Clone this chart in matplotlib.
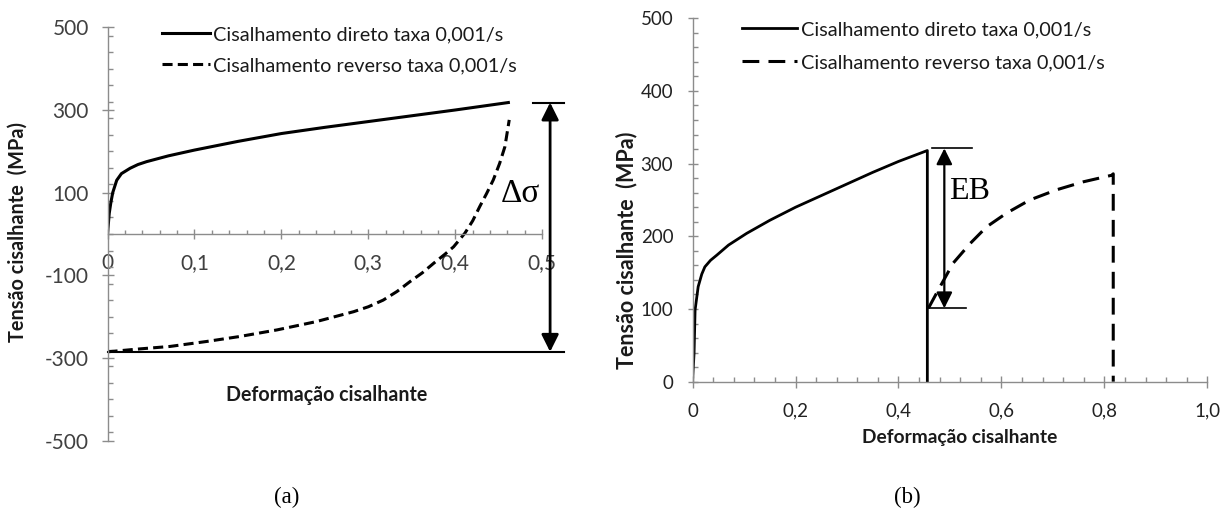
import matplotlib.pyplot as plt
from matplotlib.ticker import MultipleLocator, FixedLocator, FixedFormatter

# ---- (a) dados ----
a_direto_x = [0, 0.001, 0.002, 0.0037, 0.006, 0.0106, 0.016, 0.026, 0.035, 0.045, 0.07,
              0.1, 0.15, 0.2, 0.25, 0.3, 0.35, 0.4, 0.461]
a_direto_y = [0, 25, 50, 74, 100, 130, 146, 159, 168, 175, 189,
              203, 224, 243, 258, 272, 286, 300, 318]
a_reverso_x = [0, 0.037, 0.072, 0.114, 0.152, 0.195, 0.24, 0.283, 0.3, 0.317, 0.333, 0.348,
               0.362, 0.375, 0.388, 0.398, 0.411, 0.42, 0.428, 0.436, 0.4437, 0.451, 0.457, 0.462]
a_reverso_y = [-285, -278, -272, -260, -248, -232, -212, -188, -176, -160, -139, -115,
               -94, -71, -49, -31, 2, 32, 66, 98, 131, 171, 211, 276]
a_xticks = [0, 0.1, 0.2, 0.3, 0.4, 0.5]
a_xticklabels = ['0', '0,1', '0,2', '0,3', '0,4', '0,5']
a_yticks = [-500, -300, -100, 100, 300, 500]
a_yticklabels = ['-500', '-300', '-100', '100', '300', '500']

# ---- (b) dados ----
b_direto_x = [0, 0.0015, 0.003, 0.005, 0.011, 0.018, 0.024, 0.035, 0.047, 0.07, 0.105,
              0.15, 0.2, 0.25, 0.3, 0.35, 0.4, 0.456, 0.456]
b_direto_y = [0, 20, 39, 98.6, 130.7, 148, 158, 167, 174, 188, 204,
              222, 240, 256, 272, 288, 303, 318, 0]
b_reverso_x = [0.458, 0.481, 0.506, 0.539, 0.571, 0.61, 0.655, 0.707, 0.759, 0.814,
               0.817, 0.817]
b_reverso_y = [101, 131, 163, 190, 213, 232, 250, 264, 275, 284,
               286, 0]
b_xticks = [0, 0.2, 0.4, 0.6, 0.8, 1.0]
b_xticklabels = ['0', '0,2', '0,4', '0,6', '0,8', '1,0']
b_yticks = [0, 100, 200, 300, 400, 500]
b_yticklabels = ['0', '100', '200', '300', '400', '500']

leg_direto = 'Cisalhamento direto taxa 0,001/s'
leg_reverso = 'Cisalhamento reverso taxa 0,001/s'

plt.rcParams['font.family'] = ['Lato', 'DejaVu Sans']
spine_cor = '#8c8c8c'

fig = plt.figure(figsize=(12.32, 5.15), dpi=100)

# ================= (a) =================
ax1 = fig.add_axes([0.08726, 0.1443, 0.3529, 0.8027])
l1, = ax1.plot(a_direto_x, a_direto_y, color='black', lw=2.2)
l2, = ax1.plot(a_reverso_x, a_reverso_y, color='black', lw=2.2, dashes=(3.3, 1.7))
ax1.set_xlim(0, 0.5)
ax1.set_ylim(-500, 500)

ax1.spines['top'].set_visible(False)
ax1.spines['right'].set_visible(False)
ax1.spines['bottom'].set_position(('data', 0))
for s in ['left', 'bottom']:
    ax1.spines[s].set_color(spine_cor)
    ax1.spines[s].set_linewidth(1.0)

ax1.xaxis.set_major_locator(FixedLocator(a_xticks))
ax1.xaxis.set_major_formatter(FixedFormatter(a_xticklabels))
ax1.xaxis.set_minor_locator(MultipleLocator(0.02))
ax1.yaxis.set_major_locator(FixedLocator(a_yticks))
ax1.yaxis.set_major_formatter(FixedFormatter(a_yticklabels))
ax1.yaxis.set_minor_locator(MultipleLocator(40))
ax1.tick_params(axis='x', which='major', direction='inout', length=7.5, width=1,
                color=spine_cor, pad=10, labelsize=15, labelcolor='#404040')
ax1.tick_params(axis='x', which='minor', direction='in', length=3, width=1, color=spine_cor)
ax1.tick_params(axis='y', which='major', direction='inout', length=9, width=1,
                color=spine_cor, pad=9, labelsize=15, labelcolor='#404040')
ax1.tick_params(axis='y', which='minor', direction='in', length=3.6, width=1, color=spine_cor)

# linhas de referencia e seta delta sigma
topo_a = max(a_direto_y)
base_a = a_reverso_y[0]
ax1.plot([0.489, 0.525], [topo_a, topo_a], color='black', lw=1.5, clip_on=False)
ax1.plot([0, 0.525], [base_a, base_a], color='black', lw=1.5, clip_on=False)
ax1.annotate('', xy=(0.509, topo_a), xytext=(0.509, base_a),
             arrowprops=dict(arrowstyle='<|-|>', lw=2, color='black',
                             mutation_scale=26, shrinkA=0, shrinkB=0),
             annotation_clip=False)
ax1.text(0.475, 97, 'Δσ', fontsize=24, family='Liberation Serif', ha='center', va='center')

ax1.legend([l1, l2], [leg_direto, leg_reverso], loc='upper left',
           bbox_to_anchor=(162 / 1232, 1 - 26 / 515), bbox_transform=fig.transFigure,
           frameon=False, fontsize=14.3, borderpad=0, borderaxespad=0,
           handlelength=2.42, handletextpad=0.15, labelspacing=0.72, labelcolor='#1a1a1a')

fig.text(327 / 1232, 1 - 395 / 515, 'Deformação cisalhante', fontsize=14.1,
         fontweight='bold', ha='center', va='center', color='#1a1a1a')
fig.text(18 / 1232, 1 - 232 / 515, 'Tensão cisalhante  (MPa)', fontsize=14.3,
         fontweight='bold', ha='center', va='center', rotation=90, color='#1a1a1a')

# ================= (b) =================
ax2 = fig.add_axes([0.5621, 0.2588, 0.418, 0.7058])
l3, = ax2.plot(b_direto_x, b_direto_y, color='black', lw=2)
l4, = ax2.plot(b_reverso_x, b_reverso_y, color='black', lw=2.2, dashes=(5.5, 3))
ax2.set_xlim(0, 1.0)
ax2.set_ylim(0, 500)

ax2.spines['top'].set_visible(False)
ax2.spines['right'].set_visible(False)
for s in ['left', 'bottom']:
    ax2.spines[s].set_color(spine_cor)
    ax2.spines[s].set_linewidth(1.0)

ax2.xaxis.set_major_locator(FixedLocator(b_xticks))
ax2.xaxis.set_major_formatter(FixedFormatter(b_xticklabels))
ax2.xaxis.set_minor_locator(MultipleLocator(0.04))
ax2.yaxis.set_major_locator(FixedLocator(b_yticks))
ax2.yaxis.set_major_formatter(FixedFormatter(b_yticklabels))
ax2.yaxis.set_minor_locator(MultipleLocator(20))
ax2.tick_params(axis='x', which='major', direction='inout', length=8.4, width=1,
                color=spine_cor, pad=11, labelsize=13.5, labelcolor='#222222')
ax2.tick_params(axis='x', which='minor', direction='in', length=3.6, width=1, color=spine_cor)
ax2.tick_params(axis='y', which='major', direction='inout', length=7.7, width=1,
                color=spine_cor, pad=10, labelsize=13.5, labelcolor='#222222')
ax2.tick_params(axis='y', which='minor', direction='in', length=3.6, width=1, color=spine_cor)

# linhas de referencia e seta EB
topo_b = max(b_direto_y)
base_b = b_reverso_y[0]
ax2.plot([0.466, 0.542], [topo_b + 3, topo_b + 3], color='black', lw=1.2)
ax2.plot([0.455, 0.531], [base_b, base_b], color='black', lw=1.2)
ax2.annotate('', xy=(0.489, topo_b + 3), xytext=(0.489, base_b),
             arrowprops=dict(arrowstyle='<|-|>', lw=1.6, color='black',
                             mutation_scale=24, shrinkA=0, shrinkB=0))
ax2.text(0.538, 262, 'EB', fontsize=23, family='Liberation Serif', ha='center', va='center')

ax2.legend([l3, l4], [leg_direto, leg_reverso], loc='upper left',
           bbox_to_anchor=(741.7 / 1232, 1 - 21 / 515), bbox_transform=fig.transFigure,
           frameon=False, fontsize=14.3, borderpad=0, borderaxespad=0,
           handlelength=2.78, handletextpad=0.2, labelspacing=0.82, labelcolor='#1a1a1a')

fig.text(960 / 1232, 1 - 437 / 515, 'Deformação cisalhante', fontsize=13.8,
         fontweight='bold', ha='center', va='center', color='#1a1a1a')
fig.text(627 / 1232, 1 - 250 / 515, 'Tensão cisalhante  (MPa)', fontsize=15.5,
         fontweight='bold', ha='center', va='center', rotation=90, color='#1a1a1a')

# legendas (a) e (b)
fig.text(287 / 1232, 1 - 497 / 515, '(a)', fontsize=16.5, family='Liberation Serif',
         ha='center', va='center')
fig.text(907 / 1232, 1 - 497 / 515, '(b)', fontsize=16.5, family='Liberation Serif',
         ha='center', va='center')

fig.savefig('out.png', dpi=100)
